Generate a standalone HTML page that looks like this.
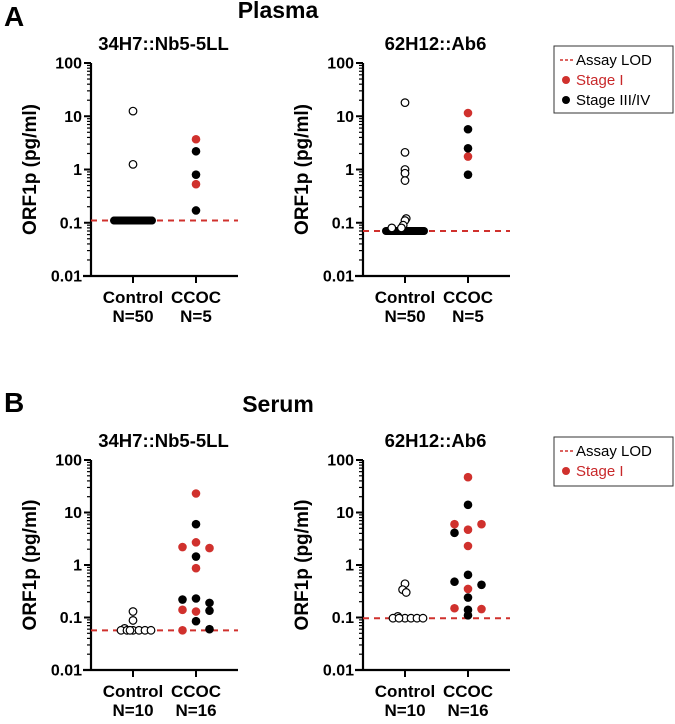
<!DOCTYPE html>
<html><head><meta charset="utf-8"><style>
body{margin:0;background:#fff;}
svg text{font-family:"Liberation Sans",Arial,sans-serif;}
</style></head><body>
<svg id="fig" width="675" height="719" viewBox="0 0 675 719" xmlns="http://www.w3.org/2000/svg">
<text x="4" y="26" font-size="28" font-weight="bold">A</text>
<text x="278" y="18" font-size="23" font-weight="bold" text-anchor="middle">Plasma</text>
<text x="4" y="412" font-size="28" font-weight="bold">B</text>
<text x="278" y="412" font-size="23" font-weight="bold" text-anchor="middle">Serum</text>
<g>
<rect x="554" y="46" width="119" height="67" fill="#fff" stroke="#333" stroke-width="1"/>
<line x1="560" y1="60" x2="573" y2="60" stroke="#d0312d" stroke-width="1.5" stroke-dasharray="3,2"/>
<text x="576" y="65" font-size="15">Assay LOD</text>
<circle cx="566" cy="80" r="4" fill="#d0312d"/>
<text x="576" y="85" font-size="15" fill="#c8282a">Stage I</text>
<circle cx="566" cy="100" r="4" fill="#000"/>
<text x="576" y="105" font-size="15">Stage III/IV</text>
</g>
<g>
<rect x="554" y="437" width="119" height="49" fill="#fff" stroke="#333" stroke-width="1"/>
<line x1="560" y1="451" x2="573" y2="451" stroke="#d0312d" stroke-width="1.5" stroke-dasharray="3,2"/>
<text x="576" y="456" font-size="15">Assay LOD</text>
<circle cx="566" cy="471" r="4" fill="#d0312d"/>
<text x="576" y="476" font-size="15" fill="#c8282a">Stage I</text>
</g>
</svg>
<script>
// Panel data arrays
const groups = ["Control", "CCOC"];
const aLeftN = ["N=50", "N=5"];
const aRightN = ["N=50", "N=5"];
const bLeftN = ["N=10", "N=16"];
const bRightN = ["N=10", "N=16"];
const yTickLabels = ["0.01", "0.1", "1", "10", "100"];
const yTickValues = [0.01, 0.1, 1, 10, 100];
const lodValues = [0.11, 0.07, 0.057, 0.097];
// control open circles: [value, jitter slot]
const aLeftControlOpen = [[12.5,0],[1.25,0]];
const aLeftControlFloor = 0.11; const aLeftControlFloorCount = 48;
const aLeftCcocRed = [[3.7,0],[0.53,0]];
const aLeftCcocBlack = [[2.2,0],[0.8,0],[0.17,0]];
const aRightControlOpen = [[18,0],[2.1,0],[1.0,0],[0.85,0],[0.62,0],[0.12,0.2],[0.11,0],[0.09,-0.3],[0.08,-0.6],[0.08,-2.2]];
const aRightControlFloor = 0.07; const aRightControlFloorCount = 40;
const aRightCcocRed = [[11.5,0],[1.75,0]];
const aRightCcocBlack = [[5.7,0],[2.5,0],[0.8,0]];
const bLeftControlOpen = [[0.13,0],[0.088,0],[0.062,-1.4],[0.057,-2],[0.057,-1],[0.057,0],[0.057,1],[0.057,2],[0.057,3],[0.057,-0.5]];
const bLeftCcocRed = [[23,0],[2.2,-1],[2.7,0],[2.1,1],[0.87,0],[0.14,-1],[0.13,0],[0.057,-1]];
const bLeftCcocBlack = [[6,0],[1.45,0],[0.22,-1],[0.23,0],[0.19,1],[0.135,1],[0.085,0],[0.06,1]];
const bRightControlOpen = [[0.44,0],[0.34,-0.4],[0.30,0.2],[0.105,-1.2],[0.097,-2],[0.097,0],[0.097,1],[0.097,2],[0.097,3],[0.097,-1]];
const bRightCcocRed = [[47,0],[6,-1],[4.7,0],[6,1],[2.3,0],[0.35,0],[0.15,-1],[0.145,1]];
const bRightCcocBlack = [[14,0],[4.1,-1],[0.65,0],[0.48,-1],[0.42,1],[0.24,0],[0.14,0],[0.11,0]];

const NS="http://www.w3.org/2000/svg";
const svg=document.getElementById('fig');
function mk(tag,attrs,parent,text){const e=document.createElementNS(NS,tag);for(const k in attrs)e.setAttribute(k,attrs[k]);if(text!==undefined)e.textContent=text;(parent||svg).appendChild(e);return e;}

function panel(cfg){
  const g=mk('g',{});
  
  
  const ax=cfg.ax, yTop=cfg.yTop, yBot=cfg.yBot, axEnd=cfg.axEnd;
  const yScale=v=>yBot-(Math.log10(v)+2)/4*(yBot-yTop);
  const xScale=i=>cfg.gx[i];
  const t=mk('text',{x:(ax+axEnd)/2-1,y:yTop-13,'font-size':18.5,'font-weight':'bold','text-anchor':'middle'},g,cfg.title);
  
  
  const yl=mk('text',{x:0,y:0,'font-size':19,'font-weight':'bold','text-anchor':'middle',transform:`translate(${ax-55},${(yTop+yBot)/2}) rotate(-90)`},g,'ORF1p (pg/ml)');
  
  
  mk('line',{x1:ax,y1:yTop,x2:ax,y2:yBot+1,stroke:'#000','stroke-width':2.2},g);
  mk('line',{x1:ax-8,y1:yBot,x2:axEnd,y2:yBot,stroke:'#000','stroke-width':2.2},g);
  yTickValues.forEach((v,i)=>{
    const y=yScale(v);
    mk('line',{x1:ax-7,y1:y,x2:ax,y2:y,stroke:'#000','stroke-width':2},g);
    const tl=mk('text',{x:ax-9,y:y+5.5,'font-size':16,'font-weight':'bold','text-anchor':'end'},g,yTickLabels[i]);
    
    
    if(i<yTickValues.length-1){for(let m=2;m<=9;m++){const yy=yScale(v*m);mk('line',{x1:ax-4,y1:yy,x2:ax,y2:yy,stroke:'#000','stroke-width':1.2},g);}}
  });
  groups.forEach((gname,i)=>{
    const x=xScale(i);
    mk('line',{x1:x,y1:yBot,x2:x,y2:yBot+7,stroke:'#000','stroke-width':2},g);
    const l=mk('text',{x:x,y:yBot+27,'font-size':17,'font-weight':'bold','text-anchor':'middle'},g,gname);
    
    
    const n=mk('text',{x:x,y:yBot+46,'font-size':17,'font-weight':'bold','text-anchor':'middle'},g,cfg.n[i]);
    
    
  });
  const ly=yScale(cfg.lod);
  const lod=mk('line',{x1:ax,y1:ly,x2:axEnd,y2:ly,stroke:'#d0312d','stroke-width':2,'stroke-dasharray':'6,5'},g);
  
  
  if(cfg.floorCount){
    const x0=xScale(0);
    for(let k=0;k<cfg.floorCount;k++){
      const off=(k/(cfg.floorCount-1)-0.5)*cfg.floorWidth;
      const c=mk('circle',{cx:x0+off,cy:yScale(cfg.floor),r:4,fill:'#000'},g);
      
      
    }
  }
  const step=cfg.step;
  cfg.open.forEach(([v,s])=>{
    const c=mk('circle',{cx:xScale(0)+s*step,cy:yScale(v),r:3.8,fill:'#fff',stroke:'#000','stroke-width':1.2},g);
    
    
  });
  cfg.red.forEach(([v,s])=>{
    const c=mk('circle',{cx:xScale(1)+s*13.5,cy:yScale(v),r:4.3,fill:'#d0312d'},g);
    
    
  });
  cfg.black.forEach(([v,s])=>{
    const c=mk('circle',{cx:xScale(1)+s*13.5,cy:yScale(v),r:4.3,fill:'#000'},g);
    
    
  });
}
panel({name:'plasma-34h7-panel',title:'34H7::Nb5-5LL',ax:91,axEnd:238,yTop:63,yBot:276,gx:[133,196],n:aLeftN,lod:lodValues[0],open:aLeftControlOpen,floor:aLeftControlFloor,floorCount:aLeftControlFloorCount,floorWidth:38,step:6,red:aLeftCcocRed,black:aLeftCcocBlack});
panel({name:'plasma-62h12-panel',title:'62H12::Ab6',ax:363,axEnd:510,yTop:63,yBot:276,gx:[405,468],n:aRightN,lod:lodValues[1],open:aRightControlOpen,floor:aRightControlFloor,floorCount:aRightControlFloorCount,floorWidth:38,step:6,red:aRightCcocRed,black:aRightCcocBlack});
panel({name:'serum-34h7-panel',title:'34H7::Nb5-5LL',ax:91,axEnd:238,yTop:460,yBot:670,gx:[133,196],n:bLeftN,lod:lodValues[2],open:bLeftControlOpen,floorCount:0,step:6,red:bLeftCcocRed,black:bLeftCcocBlack});
panel({name:'serum-62h12-panel',title:'62H12::Ab6',ax:363,axEnd:510,yTop:460,yBot:670,gx:[405,468],n:bRightN,lod:lodValues[3],open:bRightControlOpen,floorCount:0,step:6,red:bRightCcocRed,black:bRightCcocBlack});
</script>
</body></html>
